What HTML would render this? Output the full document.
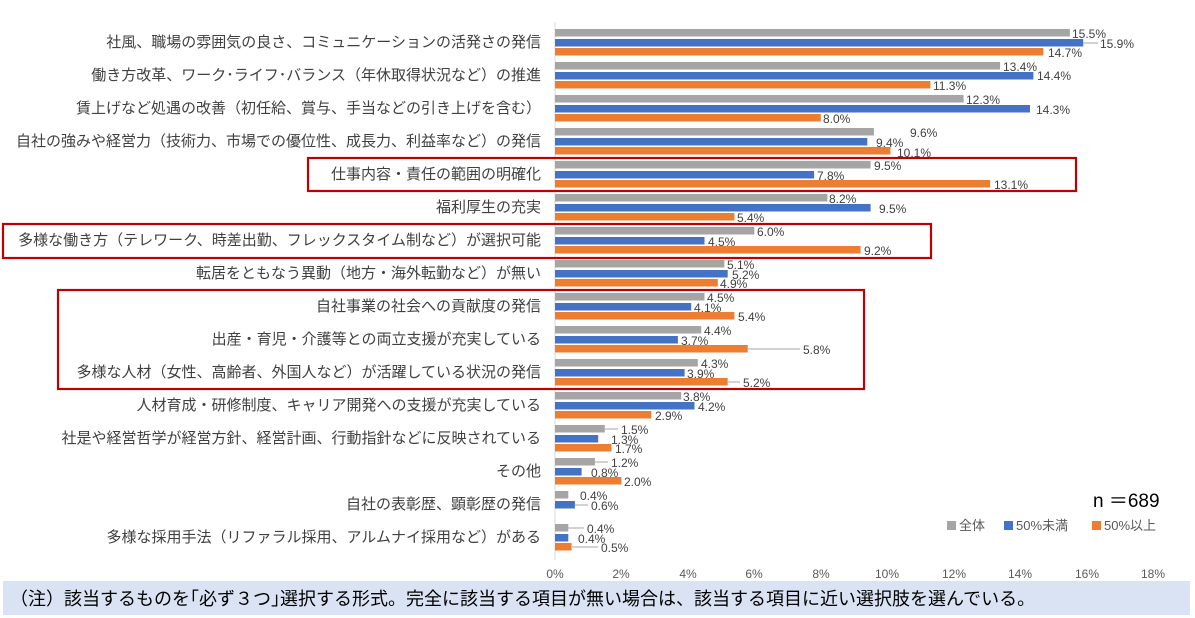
<!DOCTYPE html>
<html><head><meta charset="utf-8"><style>
body{margin:0;background:#fff;}
svg{display:block;font-family:"Liberation Sans","Noto Sans CJK JP",sans-serif;}
.c{font-size:15px;fill:#404040;text-anchor:end;}
.v{font-size:12px;fill:#404040;}
.a{font-size:12px;fill:#595959;text-anchor:middle;}
</style></head><body>
<svg width="1195" height="618" viewBox="0 0 1195 618">
<line x1="555" y1="22" x2="555" y2="560" stroke="#d9d9d9" stroke-width="1"/>
<g fill="#a5a5a5">
<rect x="555" y="29" width="514.9" height="7.5"/><rect x="555" y="62" width="445.1" height="7.5"/><rect x="555" y="95" width="408.6" height="7.5"/><rect x="555" y="128" width="318.9" height="7.5"/><rect x="555" y="161" width="315.6" height="7.5"/><rect x="555" y="194" width="272.4" height="7.5"/><rect x="555" y="227" width="199.3" height="7.5"/><rect x="555" y="260" width="169.4" height="7.5"/><rect x="555" y="293" width="149.5" height="7.5"/><rect x="555" y="326" width="146.2" height="7.5"/><rect x="555" y="359" width="142.8" height="7.5"/><rect x="555" y="392" width="126.2" height="7.5"/><rect x="555" y="425" width="49.8" height="7.5"/><rect x="555" y="458" width="39.9" height="7.5"/><rect x="555" y="491" width="13.3" height="7.5"/><rect x="555" y="524" width="13.3" height="7.5"/>
</g>
<g fill="#4472c4">
<rect x="555" y="39" width="528.2" height="7.5"/><rect x="555" y="72" width="478.4" height="7.5"/><rect x="555" y="105" width="475" height="7.5"/><rect x="555" y="138" width="312.3" height="7.5"/><rect x="555" y="171" width="259.1" height="7.5"/><rect x="555" y="204" width="315.6" height="7.5"/><rect x="555" y="237" width="149.5" height="7.5"/><rect x="555" y="270" width="172.7" height="7.5"/><rect x="555" y="303" width="136.2" height="7.5"/><rect x="555" y="336" width="122.9" height="7.5"/><rect x="555" y="369" width="129.6" height="7.5"/><rect x="555" y="402" width="139.5" height="7.5"/><rect x="555" y="435" width="43.2" height="7.5"/><rect x="555" y="468" width="26.6" height="7.5"/><rect x="555" y="501" width="19.9" height="7.5"/><rect x="555" y="534" width="13.3" height="7.5"/>
</g>
<g fill="#ed7d31">
<rect x="555" y="48" width="488.3" height="7.5"/><rect x="555" y="81" width="375.4" height="7.5"/><rect x="555" y="114" width="265.8" height="7.5"/><rect x="555" y="147" width="335.5" height="7.5"/><rect x="555" y="180" width="435.2" height="7.5"/><rect x="555" y="213" width="179.4" height="7.5"/><rect x="555" y="246" width="305.6" height="7.5"/><rect x="555" y="279" width="162.8" height="7.5"/><rect x="555" y="312" width="179.4" height="7.5"/><rect x="555" y="345" width="192.7" height="7.5"/><rect x="555" y="378" width="172.7" height="7.5"/><rect x="555" y="411" width="96.3" height="7.5"/><rect x="555" y="444" width="56.5" height="7.5"/><rect x="555" y="477" width="66.4" height="7.5"/><rect x="555" y="543" width="16.6" height="7.5"/>
</g>
<g stroke="#a5a5a5" stroke-width="1">
<line x1="1083" y1="43" x2="1098" y2="43"/><line x1="748" y1="349" x2="800" y2="349"/><line x1="728" y1="382" x2="740" y2="382"/><line x1="605" y1="429" x2="618" y2="429"/><line x1="595" y1="462" x2="608" y2="462"/><line x1="575" y1="505" x2="588" y2="505"/><line x1="568" y1="528" x2="584" y2="528"/><line x1="572" y1="547" x2="598" y2="547"/>
</g>
<g class="v">
<text x="1072" y="38">15.5%</text><text x="1100" y="48">15.9%</text><text x="1048" y="57">14.7%</text>
<text x="1003" y="71">13.4%</text><text x="1037" y="80">14.4%</text><text x="933" y="90">11.3%</text>
<text x="966" y="104">12.3%</text><text x="1036" y="114">14.3%</text><text x="823" y="123">8.0%</text>
<text x="910" y="137">9.6%</text><text x="876" y="147">9.4%</text><text x="897" y="157">10.1%</text>
<text x="874" y="170">9.5%</text><text x="817" y="180">7.8%</text><text x="994" y="189">13.1%</text>
<text x="829" y="203">8.2%</text><text x="879" y="213">9.5%</text><text x="737" y="222">5.4%</text>
<text x="757" y="236">6.0%</text><text x="708" y="246">4.5%</text><text x="864" y="255">9.2%</text>
<text x="727" y="269">5.1%</text><text x="732" y="279">5.2%</text><text x="720" y="288">4.9%</text>
<text x="707" y="302">4.5%</text><text x="694" y="312">4.1%</text><text x="738" y="321">5.4%</text>
<text x="704" y="335">4.4%</text><text x="681" y="345">3.7%</text><text x="803" y="354">5.8%</text>
<text x="701" y="368">4.3%</text><text x="687" y="378">3.9%</text><text x="743" y="387">5.2%</text>
<text x="683" y="401">3.8%</text><text x="698" y="411">4.2%</text><text x="655" y="420">2.9%</text>
<text x="621" y="434">1.5%</text><text x="611" y="444">1.3%</text><text x="615" y="453">1.7%</text>
<text x="611" y="467">1.2%</text><text x="591" y="477">0.8%</text><text x="624" y="486">2.0%</text>
<text x="580" y="500">0.4%</text><text x="591" y="510">0.6%</text>
<text x="587" y="533">0.4%</text><text x="578" y="543">0.4%</text><text x="601" y="552">0.5%</text>
</g>
<g class="c">
<text x="541" y="47">社風、職場の雰囲気の良さ、コミュニケーションの活発さの発信</text>
<text x="541" y="80">働き方改革、ワーク･ライフ･バランス（年休取得状況など）の推進</text>
<text x="541" y="113">賃上げなど処遇の改善（初任給、賞与、手当などの引き上げを含む）</text>
<text x="541" y="146">自社の強みや経営力（技術力、市場での優位性、成長力、利益率など）の発信</text>
<text x="541" y="179">仕事内容・責任の範囲の明確化</text>
<text x="541" y="212">福利厚生の充実</text>
<text x="541" y="245">多様な働き方（テレワーク、時差出勤、フレックスタイム制など）が選択可能</text>
<text x="541" y="278">転居をともなう異動（地方・海外転勤など）が無い</text>
<text x="541" y="311">自社事業の社会への貢献度の発信</text>
<text x="541" y="344">出産・育児・介護等との両立支援が充実している</text>
<text x="541" y="377">多様な人材（女性、高齢者、外国人など）が活躍している状況の発信</text>
<text x="541" y="410">人材育成・研修制度、キャリア開発への支援が充実している</text>
<text x="541" y="443">社是や経営哲学が経営方針、経営計画、行動指針などに反映されている</text>
<text x="541" y="476">その他</text>
<text x="541" y="509">自社の表彰歴、顕彰歴の発信</text>
<text x="541" y="542">多様な採用手法（リファラル採用、アルムナイ採用など）がある</text>
</g>
<g fill="none" stroke="#c00000" stroke-width="2.2">
<rect x="308" y="158" width="768" height="33"/>
<rect x="3" y="224" width="928" height="34"/>
<rect x="58" y="290" width="806" height="99"/>
</g>
<g class="a">
<text x="555" y="578">0%</text><text x="621" y="578">2%</text><text x="688" y="578">4%</text><text x="754" y="578">6%</text><text x="821" y="578">8%</text><text x="887" y="578">10%</text><text x="954" y="578">12%</text><text x="1020" y="578">14%</text><text x="1087" y="578">16%</text><text x="1153" y="578">18%</text>
</g>
<text x="1093" y="507" style="font-size:19px;fill:#000">n ＝689</text>
<rect x="947" y="521" width="9" height="9" fill="#a5a5a5"/><text x="959" y="530" style="font-size:13px;fill:#595959">全体</text>
<rect x="1004" y="521" width="9" height="9" fill="#4472c4"/><text x="1016" y="530" style="font-size:13px;fill:#595959">50%未満</text>
<rect x="1092" y="521" width="9" height="9" fill="#ed7d31"/><text x="1104" y="530" style="font-size:13px;fill:#595959">50%以上</text>
<rect x="3" y="581" width="1187" height="34" fill="#dae3f3"/>
<text x="10" y="605" style="font-size:18px;fill:#000">（注）該当するものを｢必ず３つ｣選択する形式。完全に該当する項目が無い場合は、該当する項目に近い選択肢を選んでいる。</text>
</svg>
</body></html>
